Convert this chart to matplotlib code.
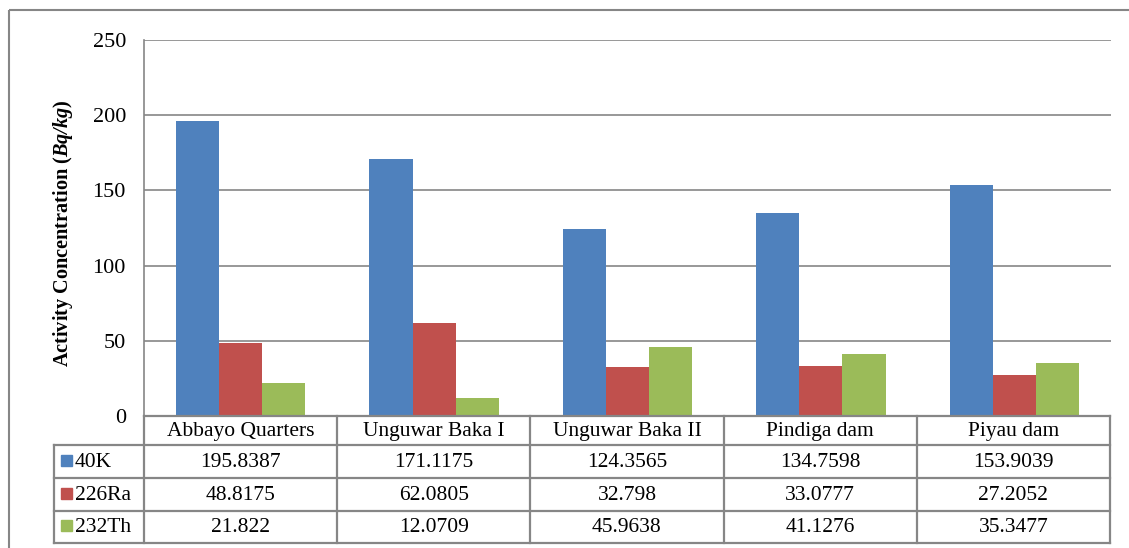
import numpy as np
import matplotlib.pyplot as plt
from matplotlib.patches import Rectangle
from matplotlib.lines import Line2D

plt.rcParams['font.family'] = ['Liberation Serif', 'DejaVu Serif']
plt.rcParams['mathtext.fontset'] = 'custom'
plt.rcParams['mathtext.bfit'] = 'Liberation Serif:italic:bold'

sites = ["Abbayo Quarters", "Unguwar Baka I", "Unguwar Baka II", "Pindiga dam", "Piyau dam"]
series = ["40K", "226Ra", "232Th"]
k40 = [195.8387, 171.1175, 124.3565, 134.7598, 153.9039]
ra226 = [48.8175, 62.0805, 32.798, 33.0777, 27.2052]
th232 = [21.822, 12.0709, 45.9638, 41.1276, 35.3477]
k40_txt = ["195.8387", "171.1175", "124.3565", "134.7598", "153.9039"]
ra226_txt = ["48.8175", "62.0805", "32.798", "33.0777", "27.2052"]
th232_txt = ["21.822", "12.0709", "45.9638", "41.1276", "35.3477"]
yticks = [0, 50, 100, 150, 200, 250]

colors = ["#4F81BD", "#C0504D", "#9BBB59"]
grid_c = "#868686"
W, H = 1129, 548

fig = plt.figure(figsize=(W / 100, H / 100), dpi=100)

# main axes in pixel layout
L, R, T, B = 144, 1111, 40, 416
ax = fig.add_axes([L / W, (H - B) / H, (R - L) / W, (B - T) / H])
x = np.arange(len(sites))
bw = 0.223
for i, vals in enumerate([k40, ra226, th232]):
    ax.bar(x + (i - 1) * bw, vals, bw, color=colors[i], zorder=3)
ax.set_xlim(-0.5, len(sites) - 0.5)
ax.set_ylim(0, 250)
ax.set_yticks(yticks)
ax.set_yticklabels([str(v) for v in yticks], fontsize=16)
ax.tick_params(axis='y', length=0, pad=13)
ax.set_xticks([])
ax.yaxis.grid(True, color=grid_c, linewidth=1.2)
for s in ["top", "right"]:
    ax.spines[s].set_visible(False)
ax.spines["left"].set_color(grid_c)
ax.spines["left"].set_linewidth(1.2)
ax.spines["bottom"].set_visible(False)

fig.text(63 / W, 1 - 233 / H, r"Activity Concentration ($\mathbfit{Bq/kg}$)",
         rotation=90, ha='center', va='center', fontsize=14.6, fontweight='bold')

# overlay axes in pixel coordinates for frame and data table
ov = fig.add_axes([0, 0, 1, 1], facecolor='none')
ov.set_xlim(0, W)
ov.set_ylim(H, 0)
ov.axis('off')
ov.add_patch(Rectangle((9, 10), W + 20, H + 20, fill=False, edgecolor=grid_c, linewidth=1.5, clip_on=False))

col_edges = np.linspace(L, 1110, len(sites) + 1)
row_edges = [416, 445, 478, 511, 543]
leg_left = 54
lw = 1.6
tc = grid_c
# horizontal lines
ov.add_line(Line2D([L, col_edges[-1]], [row_edges[0]] * 2, color=tc, lw=lw))
for y in row_edges[1:]:
    ov.add_line(Line2D([leg_left, col_edges[-1]], [y, y], color=tc, lw=lw))
# vertical lines
for xe in col_edges:
    ov.add_line(Line2D([xe, xe], [row_edges[0], row_edges[-1]], color=tc, lw=lw))
ov.add_line(Line2D([leg_left, leg_left], [row_edges[1], row_edges[-1]], color=tc, lw=lw))

fs = 15.5
centers = (col_edges[:-1] + col_edges[1:]) / 2
for cx, name in zip(centers, sites):
    ov.text(cx, (row_edges[0] + row_edges[1]) / 2 + 1, name, ha='center', va='center', fontsize=fs)
for r, (name, txts) in enumerate(zip(series, [k40_txt, ra226_txt, th232_txt])):
    cy = (row_edges[r + 1] + row_edges[r + 2]) / 2 + 1
    ov.add_patch(Rectangle((61, cy - 8), 11, 11, color=colors[r]))
    ov.text(75, cy, name, ha='left', va='center', fontsize=fs)
    for cx, t in zip(centers, txts):
        ov.text(cx, cy, t, ha='center', va='center', fontsize=fs)

fig.savefig("out.png", dpi=100)
